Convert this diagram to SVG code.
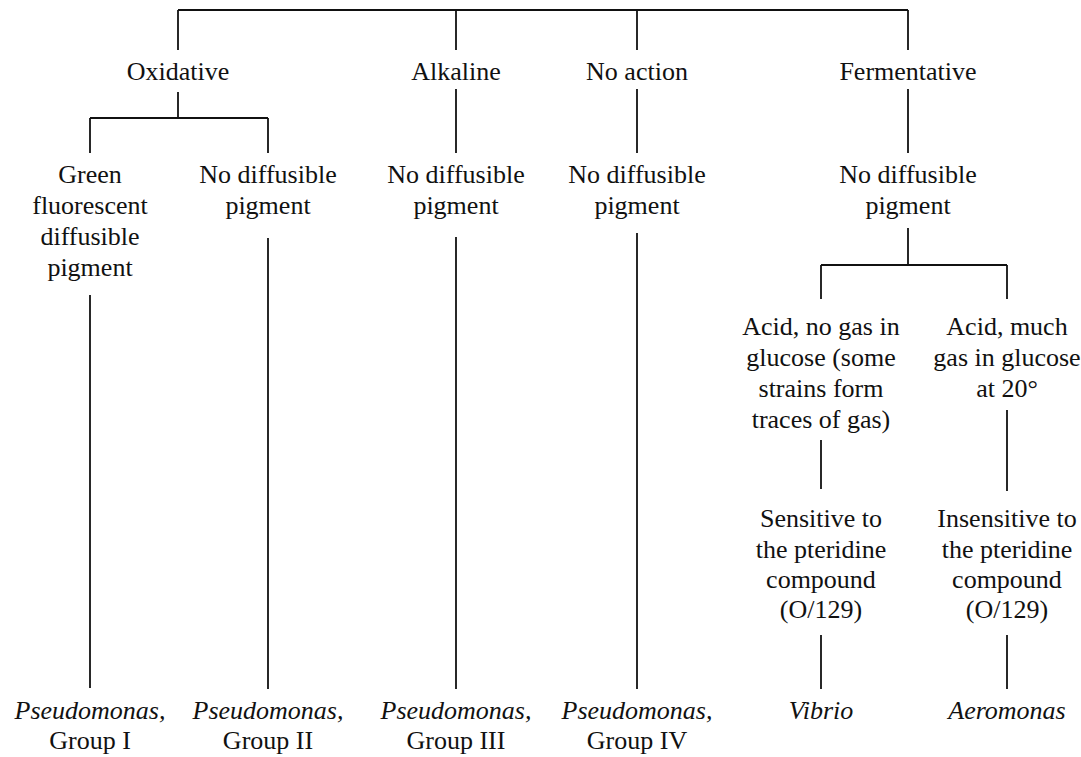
<svg xmlns="http://www.w3.org/2000/svg" width="1081" height="757" viewBox="0 0 1081 757">
<style>
text{font-family:'Liberation Serif','Times New Roman',Tinos,'DejaVu Serif',serif;font-size:26px;fill:#111;text-anchor:middle}
.i{font-style:italic}
.c line{stroke:#111;stroke-width:1.8;fill:none}
</style>
<rect width="1081" height="757" fill="#fff"/>
<g class="c" id="connectors">
<line x1="178" y1="10" x2="908" y2="10"/>
<line x1="178" y1="10" x2="178" y2="50"/>
<line x1="456" y1="10" x2="456" y2="50"/>
<line x1="637" y1="10" x2="637" y2="50"/>
<line x1="908" y1="10" x2="908" y2="50"/>
<line x1="178" y1="92" x2="178" y2="118"/>
<line x1="90" y1="118" x2="268" y2="118"/>
<line x1="90" y1="118" x2="90" y2="153"/>
<line x1="268" y1="118" x2="268" y2="153"/>
<line x1="456" y1="89" x2="456" y2="153"/>
<line x1="637" y1="89" x2="637" y2="153"/>
<line x1="908" y1="89" x2="908" y2="153"/>
<line x1="90" y1="295" x2="90" y2="688"/>
<line x1="268" y1="238" x2="268" y2="689"/>
<line x1="456" y1="237" x2="456" y2="689"/>
<line x1="637" y1="233" x2="637" y2="689"/>
<line x1="908" y1="228" x2="908" y2="265"/>
<line x1="821" y1="265" x2="1007" y2="265"/>
<line x1="821" y1="265" x2="821" y2="299"/>
<line x1="1007" y1="265" x2="1007" y2="299"/>
<line x1="821" y1="440" x2="821" y2="489"/>
<line x1="1007" y1="410" x2="1007" y2="491"/>
<line x1="821" y1="635" x2="821" y2="689"/>
<line x1="1007" y1="635" x2="1007" y2="689"/>
</g>
<g id="n-oxidative"><text x="178" y="80">Oxidative</text></g>
<g id="n-alkaline"><text x="456" y="80">Alkaline</text></g>
<g id="n-noaction"><text x="637" y="80">No action</text></g>
<g id="n-fermentative"><text x="908" y="80">Fermentative</text></g>
<g id="n-green"><text x="90" y="183">Green</text><text x="90" y="214">fluorescent</text><text x="90" y="245">diffusible</text><text x="90" y="276">pigment</text></g>
<g id="n-ndp1"><text x="268" y="183">No diffusible</text><text x="268" y="214">pigment</text></g>
<g id="n-ndp2"><text x="456" y="183">No diffusible</text><text x="456" y="214">pigment</text></g>
<g id="n-ndp3"><text x="637" y="183">No diffusible</text><text x="637" y="214">pigment</text></g>
<g id="n-ndp4"><text x="908" y="183">No diffusible</text><text x="908" y="214">pigment</text></g>
<g id="n-acidnogas"><text x="821" y="335">Acid, no gas in</text><text x="821" y="366">glucose (some</text><text x="821" y="397">strains form</text><text x="821" y="428">traces of gas)</text></g>
<g id="n-acidgas"><text x="1007" y="335">Acid, much</text><text x="1007" y="366">gas in glucose</text><text x="1007" y="397">at 20°</text></g>
<g id="n-sensitive"><text x="821" y="527">Sensitive to</text><text x="821" y="558">the pteridine</text><text x="821" y="588">compound</text><text x="821" y="618">(O/129)</text></g>
<g id="n-insensitive"><text x="1007" y="527">Insensitive to</text><text x="1007" y="558">the pteridine</text><text x="1007" y="588">compound</text><text x="1007" y="618">(O/129)</text></g>
<g id="n-p1"><text class="i" x="90" y="719">Pseudomonas,</text><text x="90" y="749">Group I</text></g>
<g id="n-p2"><text class="i" x="268" y="719">Pseudomonas,</text><text x="268" y="749">Group II</text></g>
<g id="n-p3"><text class="i" x="456" y="719">Pseudomonas,</text><text x="456" y="749">Group III</text></g>
<g id="n-p4"><text class="i" x="637" y="719">Pseudomonas,</text><text x="637" y="749">Group IV</text></g>
<g id="n-vibrio"><text class="i" x="821" y="719">Vibrio</text></g>
<g id="n-aeromonas"><text class="i" x="1007" y="719">Aeromonas</text></g>
</svg>
